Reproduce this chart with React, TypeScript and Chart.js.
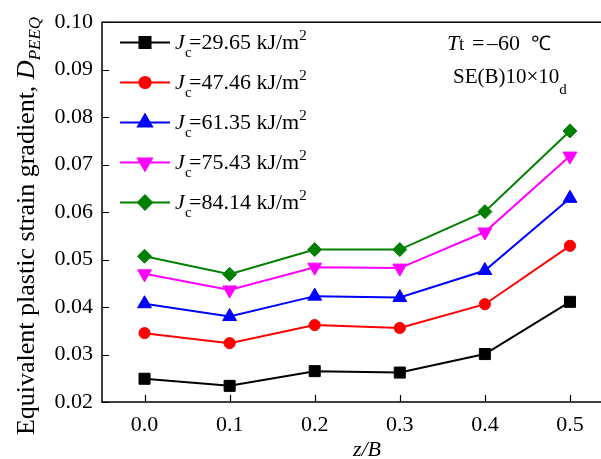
import React, { useEffect, useRef } from 'react';
import { Chart, registerables } from 'chart.js';
import { drawPoint } from 'chart.js/helpers';

Chart.register(...registerables);

const zOverB = [0, 0.1, 0.2, 0.3, 0.4, 0.5];
const jc2965 = [0.0249, 0.0234, 0.0265, 0.0262, 0.0301, 0.0411];
const jc4746 = [0.0345, 0.0324, 0.0362, 0.0356, 0.0406, 0.0529];
const jc6135 = [0.0407, 0.0380, 0.0423, 0.0420, 0.0477, 0.0629];
const jc7543 = [0.0470, 0.0436, 0.0484, 0.0482, 0.0558, 0.0718];
const jc8414 = [0.0507, 0.0469, 0.0521, 0.0521, 0.0601, 0.0771];
const jcLabels = ['29.65', '47.46', '61.35', '75.43', '84.14'];
const xTicks = [0, 0.1, 0.2, 0.3, 0.4, 0.5];
const yTicks = [0.02, 0.03, 0.04, 0.05, 0.06, 0.07, 0.08, 0.09, 0.1];

const SERIF = "'Liberation Serif', 'Times New Roman', serif";

const seriesStyle = [
  { color: '#000000', pointStyle: 'rect', radius: 7.8, rotation: 0 },
  { color: '#ff0000', pointStyle: 'circle', radius: 5.6, rotation: 0 },
  { color: '#0000ff', pointStyle: 'triangle', radius: 8, rotation: 0 },
  { color: '#ff00ff', pointStyle: 'triangle', radius: 8, rotation: 180 },
  { color: '#008000', pointStyle: 'rectRot', radius: 7, rotation: 0 },
];

const allSeries = [jc2965, jc4746, jc6135, jc7543, jc8414];

type Run = { text: string; font: string; x?: number; dy?: number };

function drawRuns(ctx: CanvasRenderingContext2D, x: number, y: number, runs: Run[]) {
  let cx = x;
  for (const r of runs) {
    ctx.font = r.font;
    const px = r.x !== undefined ? r.x : cx;
    ctx.fillText(r.text, px, y + (r.dy || 0));
    cx = px + ctx.measureText(r.text).width;
  }
}

function runsWidth(ctx: CanvasRenderingContext2D, runs: Run[]) {
  let w = 0;
  for (const r of runs) {
    ctx.font = r.font;
    w += ctx.measureText(r.text).width;
  }
  return w;
}

const decorPlugin = {
  id: 'decor',
  afterDraw(chart: any) {
    const ctx: CanvasRenderingContext2D = chart.ctx;
    const area = chart.chartArea;
    const xs = chart.scales.x;
    const ys = chart.scales.y;
    ctx.save();
    // frame
    ctx.strokeStyle = '#000';
    ctx.lineWidth = 1.5;
    ctx.strokeRect(area.left, area.top, area.right - area.left, area.bottom - area.top);
    // inward ticks
    ctx.lineWidth = 1.2;
    ctx.beginPath();
    for (const v of xTicks) {
      const px = Math.round(xs.getPixelForValue(v)) + 0.5;
      ctx.moveTo(px, area.bottom);
      ctx.lineTo(px, area.bottom - 7);
    }
    for (const v of yTicks) {
      const py = Math.round(ys.getPixelForValue(v)) + 0.5;
      ctx.moveTo(area.left, py);
      ctx.lineTo(area.left + 7, py);
    }
    ctx.stroke();

    // legend
    ctx.textAlign = 'left';
    ctx.textBaseline = 'alphabetic';
    for (let i = 0; i < jcLabels.length; i++) {
      const st = seriesStyle[i];
      const y = 42.5 + i * 40;
      ctx.strokeStyle = st.color;
      ctx.fillStyle = st.color;
      ctx.lineWidth = 2;
      ctx.beginPath();
      ctx.moveTo(120, y);
      ctx.lineTo(170, y);
      ctx.stroke();
      drawPoint(ctx, { pointStyle: st.pointStyle as any, radius: st.radius, rotation: st.rotation, borderWidth: 1 }, 145, y);
      ctx.fillStyle = '#000';
      drawRuns(ctx, 175, y + 6.5, [
        { text: 'J', font: `italic 22px ${SERIF}` },
        { text: 'c', font: `15px ${SERIF}`, x: 185, dy: 8 },
        { text: `=${jcLabels[i]} kJ/m`, font: `22px ${SERIF}`, x: 189 },
        { text: '2', font: `15px ${SERIF}`, dy: -9 },
      ]);
    }

    // annotation
    ctx.fillStyle = '#000';
    drawRuns(ctx, 447, 50, [
      { text: 'T', font: `italic 22px ${SERIF}` },
      { text: 't', font: `19px ${SERIF}`, x: 459 },
      { text: '=', font: `22px ${SERIF}`, x: 472 },
      { text: '\u201360', font: `22px ${SERIF}`, x: 487 },
      { text: '\u2103', font: `20px ${SERIF}`, x: 531 },
    ]);
    drawRuns(ctx, 453, 83, [
      { text: 'SE(B)10\u00d710', font: `21px ${SERIF}` },
      { text: 'd', font: `15px ${SERIF}`, dy: 11 },
    ]);

    // x title
    ctx.textAlign = 'center';
    ctx.font = `italic 22px ${SERIF}`;
    ctx.fillText('z/B', 367, 456);
    ctx.textAlign = 'left';

    // y title
    const yRuns: Run[] = [
      { text: 'Equivalent plastic strain gradient, ', font: `26px ${SERIF}` },
      { text: 'D', font: `italic 26px ${SERIF}` },
      { text: 'PEEQ', font: `italic 17px ${SERIF}`, dy: 6 },
    ];
    const tw = runsWidth(ctx, yRuns);
    ctx.translate(34, 226);
    ctx.rotate(-Math.PI / 2);
    drawRuns(ctx, -tw / 2, 0, yRuns);
    ctx.restore();
  },
};

export default function App() {
  const ref = useRef<HTMLCanvasElement>(null);
  useEffect(() => {
    if (!ref.current) return;
    const datasets = allSeries.map((vals, i) => {
      const st = seriesStyle[i];
      return {
        label: `Jc=${jcLabels[i]} kJ/m2`,
        data: vals.map((v, k) => ({ x: zOverB[k], y: v })),
        borderColor: st.color,
        backgroundColor: st.color,
        borderWidth: 2,
        pointStyle: st.pointStyle as any,
        pointRadius: st.radius,
        pointRotation: st.rotation,
        pointBorderWidth: 1,
        pointBorderColor: st.color,
        pointBackgroundColor: st.color,
        showLine: true,
        tension: 0,
      };
    });
    const chart = new Chart(ref.current, {
      type: 'scatter',
      data: { datasets },
      options: {
        animation: false,
        responsive: false,
        devicePixelRatio: 1,
        layout: { padding: { top: 19, right: 27.5, left: 0, bottom: 0 } },
        plugins: { legend: { display: false }, tooltip: { enabled: false } },
        scales: {
          x: {
            type: 'linear',
            min: -0.05,
            max: 0.55,
            afterBuildTicks: (s: any) => { s.ticks = xTicks.map((v) => ({ value: v })); },
            afterFit: (s: any) => { s.height = 57; },
            grid: { display: false, drawTicks: false },
            border: { display: false },
            ticks: {
              padding: 10,
              color: '#000',
              font: { family: SERIF, size: 22 },
              maxRotation: 0,
              autoSkip: false,
              callback: (v: any) => Number(v).toFixed(1),
            },
            title: { display: false },
          },
          y: {
            type: 'linear',
            min: 0.02,
            max: 0.1,
            afterBuildTicks: (s: any) => { s.ticks = yTicks.map((v) => ({ value: v })); },
            afterFit: (s: any) => { s.width = 102; },
            grid: { display: false, drawTicks: false },
            border: { display: false },
            ticks: {
              padding: 9,
              color: '#000',
              font: { family: SERIF, size: 22 },
              autoSkip: false,
              callback: (v: any) => Number(v).toFixed(2),
            },
          },
        },
      },
      plugins: [decorPlugin],
    });
    return () => chart.destroy();
  }, []);
  return (
    <div style={{ position: 'fixed', left: 0, top: 0, width: 601, height: 459, overflow: 'hidden', background: '#fff' }}>
      <canvas ref={ref} width={640} height={459} style={{ display: 'block' }} />
    </div>
  );
}
